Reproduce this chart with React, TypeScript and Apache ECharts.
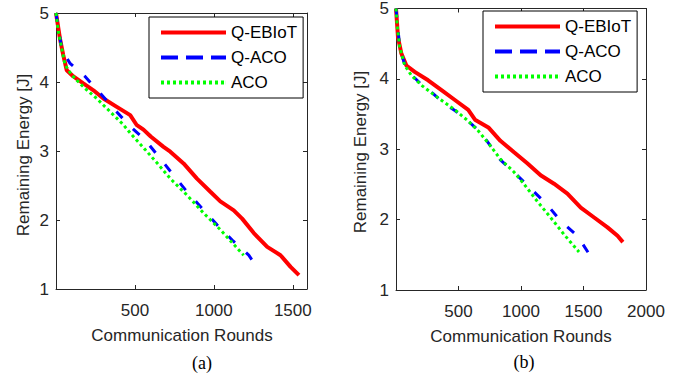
import React, { useEffect, useRef } from 'react';
import * as echarts from 'echarts';

const seriesNames = ['Q-EBIoT', 'Q-ACO', 'ACO'];
const seriesColors = ['#FF0000', '#0000FF', '#00FF00'];

const yTicks = [1, 2, 3, 4, 5];
const xTicksA = [500, 1000, 1500];
const xTicksB = [500, 1000, 1500, 2000];

// Panel (a)
const aRoundsQEBIoT = [0, 25, 46, 68, 110, 173, 237, 300, 385, 470, 510, 554, 600, 681, 724, 808, 893, 978, 1041, 1126, 1179, 1253, 1338, 1422, 1486, 1539];
const aEnergyQEBIoT = [5.0, 4.63, 4.39, 4.17, 4.08, 3.98, 3.88, 3.76, 3.64, 3.52, 3.38, 3.31, 3.21, 3.06, 2.99, 2.82, 2.6, 2.41, 2.27, 2.14, 2.02, 1.81, 1.61, 1.49, 1.32, 1.2];
const aRoundsQACO = [0, 20, 40, 89, 184, 279, 364, 459, 565, 650, 734, 830, 925, 1020, 1116, 1221, 1278];
const aEnergyQACO = [5.0, 4.7, 4.45, 4.27, 4.08, 3.84, 3.62, 3.38, 3.16, 2.92, 2.68, 2.41, 2.17, 1.93, 1.71, 1.49, 1.3];
const aRoundsACO = [0, 15, 36, 57, 100, 173, 258, 343, 427, 470, 565, 650, 724, 830, 935, 1041, 1168, 1189];
const aEnergyACO = [5.0, 4.73, 4.49, 4.25, 4.1, 3.93, 3.76, 3.57, 3.38, 3.26, 3.02, 2.8, 2.6, 2.36, 2.1, 1.86, 1.54, 1.49];

// Panel (b)
const bRoundsQEBIoT = [0, 16, 43, 83, 150, 257, 364, 471, 578, 632, 739, 835, 942, 1050, 1157, 1264, 1371, 1478, 1585, 1692, 1772, 1815];
const bEnergyQEBIoT = [5.0, 4.59, 4.36, 4.19, 4.1, 3.98, 3.84, 3.7, 3.56, 3.42, 3.31, 3.12, 2.96, 2.8, 2.63, 2.51, 2.37, 2.17, 2.03, 1.89, 1.77, 1.68];
const bRoundsQACO = [0, 30, 70, 123, 203, 297, 380, 471, 578, 659, 731, 835, 969, 1090, 1210, 1317, 1451, 1553];
const bEnergyQACO = [5.0, 4.45, 4.2, 4.06, 3.92, 3.79, 3.66, 3.55, 3.4, 3.27, 3.11, 2.85, 2.63, 2.42, 2.21, 1.98, 1.77, 1.49];
const bRoundsACO = [0, 10, 30, 70, 123, 203, 337, 471, 578, 659, 750, 835, 942, 1022, 1130, 1237, 1344, 1464];
const bEnergyACO = [5.0, 4.75, 4.45, 4.19, 4.05, 3.91, 3.73, 3.56, 3.4, 3.26, 3.06, 2.86, 2.68, 2.51, 2.26, 2.03, 1.79, 1.54];

const zip = (xs: number[], ys: number[]) => xs.map((x, i) => [x, ys[i]]);

const FONT = '"Liberation Sans", Arial, Helvetica, sans-serif';
const SERIF = '"Liberation Serif", "Times New Roman", serif';
const AXIS_COLOR = '#262626';
const FS = 17;

const lineWidths = [4, 3, 3];
const plotDash: any[] = ['solid', [9, 15], [3, 3]];

// legend line samples, drawn as filled shapes (65 x 4)
const dotPath = (() => {
  let p = 'path://';
  for (let x = 0; x <= 60; x += 6) p += `M${x},0h3v4h-3z`;
  p += 'M64.9,0h0.1v4h-0.1z';
  return p;
})();
const legendIcons = [
  'path://M0,0h65v4h-65z',
  'path://M0,0h17v4h-17zM25,0h17v4h-17zM50,0h15v4h-15z',
  dotPath,
];

function makeXAxes(gridIndex: number, max: number, ticks: number[]) {
  const common = {
    gridIndex,
    type: 'value',
    min: 0,
    max,
    interval: 500,
    splitLine: { show: false },
    axisLine: { show: true, onZero: false, lineStyle: { color: AXIS_COLOR, width: 1 } },
    axisTick: { show: true, inside: true, length: 4, lineStyle: { color: AXIS_COLOR } },
  };
  return [
    {
      ...common,
      position: 'bottom',
      axisLabel: {
        show: true,
        fontSize: FS,
        fontFamily: FONT,
        color: AXIS_COLOR,
        margin: 13,
        showMaxLabel: ticks.indexOf(max) >= 0,
        formatter: (v: number) => (ticks.indexOf(v) >= 0 ? String(v) : ''),
      },
    },
    { ...common, position: 'top', axisLabel: { show: false } },
  ];
}

function makeYAxes(gridIndex: number) {
  const common = {
    gridIndex,
    type: 'value',
    min: 1,
    max: 5,
    interval: 1,
    splitLine: { show: false },
    axisLine: { show: true, onZero: false, lineStyle: { color: AXIS_COLOR, width: 1 } },
    axisTick: { show: true, inside: true, length: 4, lineStyle: { color: AXIS_COLOR } },
  };
  return [
    {
      ...common,
      position: 'left',
      axisLabel: {
        show: true,
        fontSize: FS,
        fontFamily: FONT,
        color: AXIS_COLOR,
        margin: 7,
        formatter: (v: number) => (yTicks.indexOf(v) >= 0 ? String(v) : ''),
      },
    },
    { ...common, position: 'right', axisLabel: { show: false } },
  ];
}

function makeLegend(left: number, top: number) {
  return {
    orient: 'vertical',
    left,
    top,
    padding: [7, 6, 7, 12],
    itemWidth: 65,
    itemHeight: 4,
    itemGap: 8,
    borderColor: '#000',
    borderWidth: 1,
    backgroundColor: '#fff',
    selectedMode: false,
    textStyle: { fontSize: FS, fontFamily: FONT, color: '#000' },
    data: seriesNames.map((name, i) => ({
      name,
      icon: legendIcons[i],
      itemStyle: { color: seriesColors[i], borderWidth: 0 },
    })),
  };
}

function makeSeries(axisIndex: number, data: number[][][]) {
  return data.map((d, i) => ({
    name: seriesNames[i],
    type: 'line',
    xAxisIndex: axisIndex,
    yAxisIndex: axisIndex,
    data: d,
    symbol: 'none',
    smooth: false,
    lineStyle: { color: seriesColors[i], width: lineWidths[i], type: plotDash[i] },
    itemStyle: { color: seriesColors[i] },
    z: 2 + i,
  }));
}

export default function App() {
  const ref = useRef<HTMLDivElement>(null);

  useEffect(() => {
    if (!ref.current) return;
    const chart = echarts.init(ref.current, undefined, { renderer: 'svg' });
    const option: any = {
      animation: false,
      backgroundColor: '#ffffff',
      grid: [
        { left: 56, top: 13, width: 251, height: 276 },
        { left: 396, top: 4, width: 250, height: 286 },
      ],
      xAxis: [...makeXAxes(0, 1590, xTicksA), ...makeXAxes(1, 2000, xTicksB)],
      yAxis: [...makeYAxes(0), ...makeYAxes(1)],
      legend: [makeLegend(149, 17), makeLegend(483, 11)],
      series: [
        ...makeSeries(0, [
          zip(aRoundsQEBIoT, aEnergyQEBIoT),
          zip(aRoundsQACO, aEnergyQACO),
          zip(aRoundsACO, aEnergyACO),
        ]),
        ...makeSeries(2, [
          zip(bRoundsQEBIoT, bEnergyQEBIoT),
          zip(bRoundsQACO, bEnergyQACO),
          zip(bRoundsACO, bEnergyACO),
        ]),
      ],
      graphic: [
        {
          type: 'text', x: 23, y: 155, rotation: Math.PI / 2,
          style: { text: 'Remaining Energy [J]', fontSize: FS, fontFamily: FONT, fill: AXIS_COLOR, align: 'center', verticalAlign: 'middle' },
        },
        {
          type: 'text', x: 360, y: 152, rotation: Math.PI / 2,
          style: { text: 'Remaining Energy [J]', fontSize: FS, fontFamily: FONT, fill: AXIS_COLOR, align: 'center', verticalAlign: 'middle' },
        },
        {
          type: 'text', x: 182, y: 335,
          style: { text: 'Communication Rounds', fontSize: FS, fontFamily: FONT, fill: AXIS_COLOR, align: 'center', verticalAlign: 'middle' },
        },
        {
          type: 'text', x: 521, y: 336,
          style: { text: 'Communication Rounds', fontSize: FS, fontFamily: FONT, fill: AXIS_COLOR, align: 'center', verticalAlign: 'middle' },
        },
        {
          type: 'text', x: 202, y: 363,
          style: { text: '(a)', fontSize: 18, fontFamily: SERIF, fill: '#000', align: 'center', verticalAlign: 'middle' },
        },
        {
          type: 'text', x: 524, y: 362,
          style: { text: '(b)', fontSize: 18, fontFamily: SERIF, fill: '#000', align: 'center', verticalAlign: 'middle' },
        },
      ],
    };
    chart.setOption(option);
    return () => chart.dispose();
  }, []);

  return (
    <div
      ref={ref}
      style={{ position: 'fixed', left: 0, top: 0, width: 694, height: 377, background: '#fff' }}
    />
  );
}
